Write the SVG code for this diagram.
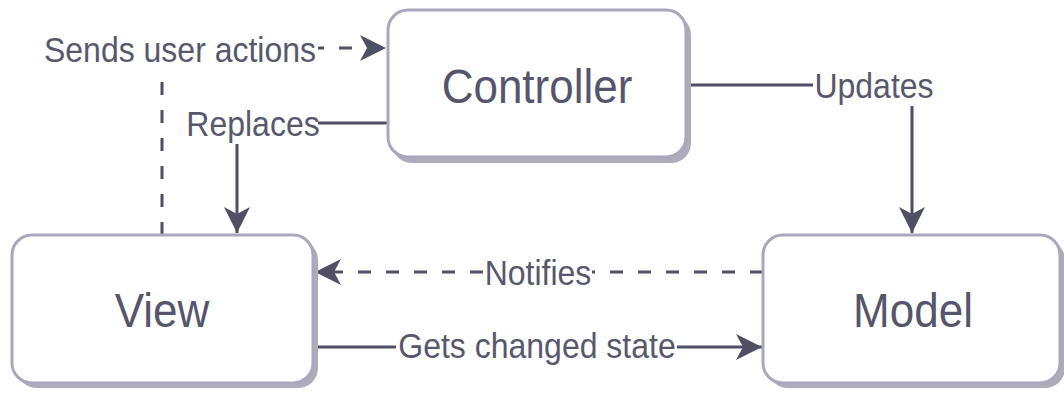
<svg xmlns="http://www.w3.org/2000/svg" width="1064" height="396" viewBox="0 0 1064 396">
  <style>
    .box { fill: #ffffff; stroke: #a9a8bc; stroke-width: 3; }
    .shadow { fill: #adacb8; }
    .node-label { font-family: "Liberation Sans", Arial, sans-serif; font-size: 44px; fill: #55556b; text-anchor: middle; }
    .edge { fill: none; stroke: #4f4f66; stroke-width: 3; }
    .dashed { stroke-dasharray: 13 15; }
    .edge-label { font-family: "Liberation Sans", Arial, sans-serif; font-size: 32px; fill: #58586c; text-anchor: middle; }
    .label-bg { fill: #ffffff; }
  </style>
  <defs>
    <marker id="arrow" markerUnits="userSpaceOnUse" viewBox="-28 -15 30 30" refX="0" refY="0" markerWidth="30" markerHeight="30" orient="auto">
      <path d="M0,0 L-26,-13 L-19,0 L-26,13 Z" fill="#4f4f66"/>
    </marker>
  </defs>

  <rect width="1064" height="396" fill="#ffffff"/>

  <!-- connectors -->
  <g id="connectors">
    <path class="edge dashed" d="M162,235 V48 H386" marker-end="url(#arrow)"/>
    <path class="edge" d="M388,123 H237 V233" marker-end="url(#arrow)"/>
    <path class="edge" d="M687,85 H912 V233" marker-end="url(#arrow)"/>
    <path class="edge dashed" d="M763,272 H315" marker-end="url(#arrow)"/>
    <path class="edge" d="M313,347 H762" marker-end="url(#arrow)"/>

    <rect class="label-bg" x="42" y="34" width="276" height="38"/>
    <text class="edge-label" transform="translate(180,62) scale(1,1.08)">Sends user actions</text>
    <rect class="label-bg" x="187" y="108" width="131" height="36"/>
    <text class="edge-label" transform="translate(253,136) scale(1,1.08)">Replaces</text>
    <rect class="label-bg" x="813" y="70" width="122" height="36"/>
    <text class="edge-label" transform="translate(874,98) scale(1,1.08)">Updates</text>
    <rect class="label-bg" x="484" y="258" width="108" height="32"/>
    <text class="edge-label" transform="translate(538,285) scale(1,1.08)">Notifies</text>
    <rect class="label-bg" x="396" y="332" width="281" height="34"/>
    <text class="edge-label" transform="translate(537,358) scale(1,1.08)">Gets changed state</text>
  </g>

  <g id="controller">
    <rect class="shadow" x="392" y="15" width="299" height="148" rx="20"/>
    <rect class="box" x="388" y="10" width="298" height="147" rx="20"/>
    <text class="node-label" transform="translate(537,103) scale(1,1.08)">Controller</text>
  </g>

  <g id="view">
    <rect class="shadow" x="17" y="240" width="301" height="148" rx="20"/>
    <rect class="box" x="12" y="235" width="301" height="148" rx="20"/>
    <text class="node-label" transform="translate(162,327) scale(1,1.08)">View</text>
  </g>

  <g id="model">
    <rect class="shadow" x="768" y="240" width="297" height="148" rx="20"/>
    <rect class="box" x="763" y="235" width="297" height="148" rx="20"/>
    <text class="node-label" transform="translate(913,327) scale(1,1.08)">Model</text>
  </g>
</svg>
